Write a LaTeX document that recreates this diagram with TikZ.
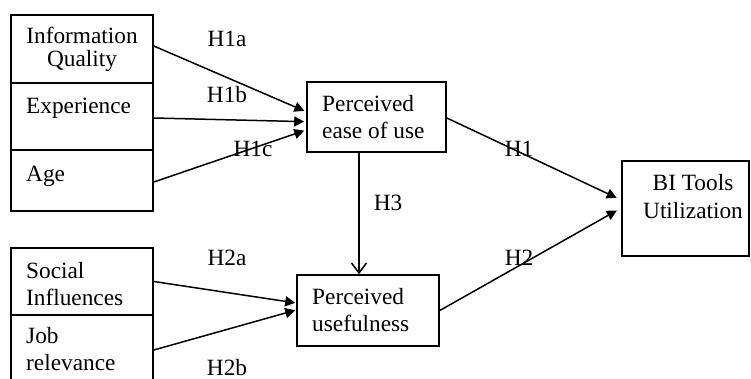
\documentclass[tikz,border=0pt]{standalone}
\usepackage{fontspec}
\setmainfont{Liberation Serif}
\usetikzlibrary{arrows.meta}
\begin{document}
\begin{tikzpicture}[x=1pt,y=-1pt,
  box/.style={draw,line width=1.6pt,inner sep=0pt},
  txt/.style={inner sep=0pt,font=\fontsize{23.3}{27}\selectfont},
  hyp/.style={inner sep=0pt,anchor=base,font=\fontsize{23.3}{27}\selectfont},
  conn/.style={line width=1.5pt,-{Triangle[length=10pt,width=10pt]}},
  openconn/.style={line width=1.5pt,-{Straight Barb[length=10pt,width=15pt,line width=1.5pt]}}]
\clip (0,0) rectangle (751,379);
\fill[white] (0,0) rectangle (751,379);
% boxes
\node[box,minimum width=142pt,minimum height=68pt] (iq) at (82,49) {};
\node[box,minimum width=142pt,minimum height=67pt] (exp) at (82,116.5) {};
\node[box,minimum width=142pt,minimum height=61pt] (age) at (82,180.5) {};
\node[box,minimum width=142pt,minimum height=67pt] (soc) at (82,281.5) {};
\node[box,minimum width=142pt,minimum height=75pt] (job) at (82,352.5) {};
\node[box,minimum width=139pt,minimum height=70pt] (peou) at (376.5,117) {};
\node[box,minimum width=142pt,minimum height=71pt] (pu) at (368,310.5) {};
\node[box,minimum width=127pt,minimum height=95pt] (bi) at (685.5,208.5) {};
% box texts
\node[txt,anchor=base] (t1) at (82,43.3) {Information};
\node[txt,anchor=base] (t2) at (82,66.7) {Quality};
\node[txt,anchor=base west] (t3) at (26,113.3) {Experience};
\node[txt,anchor=base west] (t4) at (26,181.7) {Age};
\node[txt,anchor=base west] (t5) at (26,278.3) {Social};
\node[txt,anchor=base west] (t6) at (26,305) {Influences};
\node[txt,anchor=base west] (t7) at (26,343.3) {Job};
\node[txt,anchor=base west] (t8) at (26,370) {relevance};
\node[txt,anchor=base west] (t9) at (322,111.7) {Perceived};
\node[txt,anchor=base west] (t10) at (322,138.3) {ease of use};
\node[txt,anchor=base west] (t11) at (312,304.3) {Perceived};
\node[txt,anchor=base west] (t12) at (312,331) {usefulness};
\node[txt,anchor=base] (t13) at (693,190.7) {BI Tools};
\node[txt,anchor=base] (t14) at (693,218.3) {Utilization};
% connectors
\draw[conn,shorten >=2pt] ([yshift=3pt]iq.east) -- ([yshift=5.3pt]peou.west);
\draw[conn,shorten >=2pt] ([yshift=-1.5pt]exp.east) -- ([yshift=-4.7pt]peou.west);
\draw[conn,shorten >=2pt] ([yshift=-1.5pt]age.east) -- ([yshift=-13pt]peou.west);
\draw[conn,shorten >=5pt] ([yshift=-1pt]peou.east) -- ([yshift=8.5pt]bi.west);
\draw[conn,shorten >=5pt] (pu.east) -- ([yshift=0.5pt]bi.west);
\draw[conn,shorten >=1pt] (soc.east) -- ([yshift=7.5pt]pu.west);
\draw[conn,shorten >=1pt] ([yshift=2.5pt]job.east) -- ([yshift=0.5pt]pu.west);
\draw[openconn] ([xshift=-17.5pt]peou.south) -- ([xshift=-9pt]pu.north);
% hypothesis labels
\node[hyp] (h1a) at (227,46.7) {H1a};
\node[hyp] (h1b) at (227,102.7) {H1b};
\node[hyp] (h1c) at (253,156.7) {H1c};
\node[hyp] (h2a) at (227,265.7) {H2a};
\node[hyp] (h2b) at (227,375) {H2b};
\node[hyp] (h3) at (388,210.7) {H3};
\node[hyp] (h1) at (519,156.7) {H1};
\node[hyp] (h2) at (519,265.7) {H2};
\end{tikzpicture}
\end{document}
